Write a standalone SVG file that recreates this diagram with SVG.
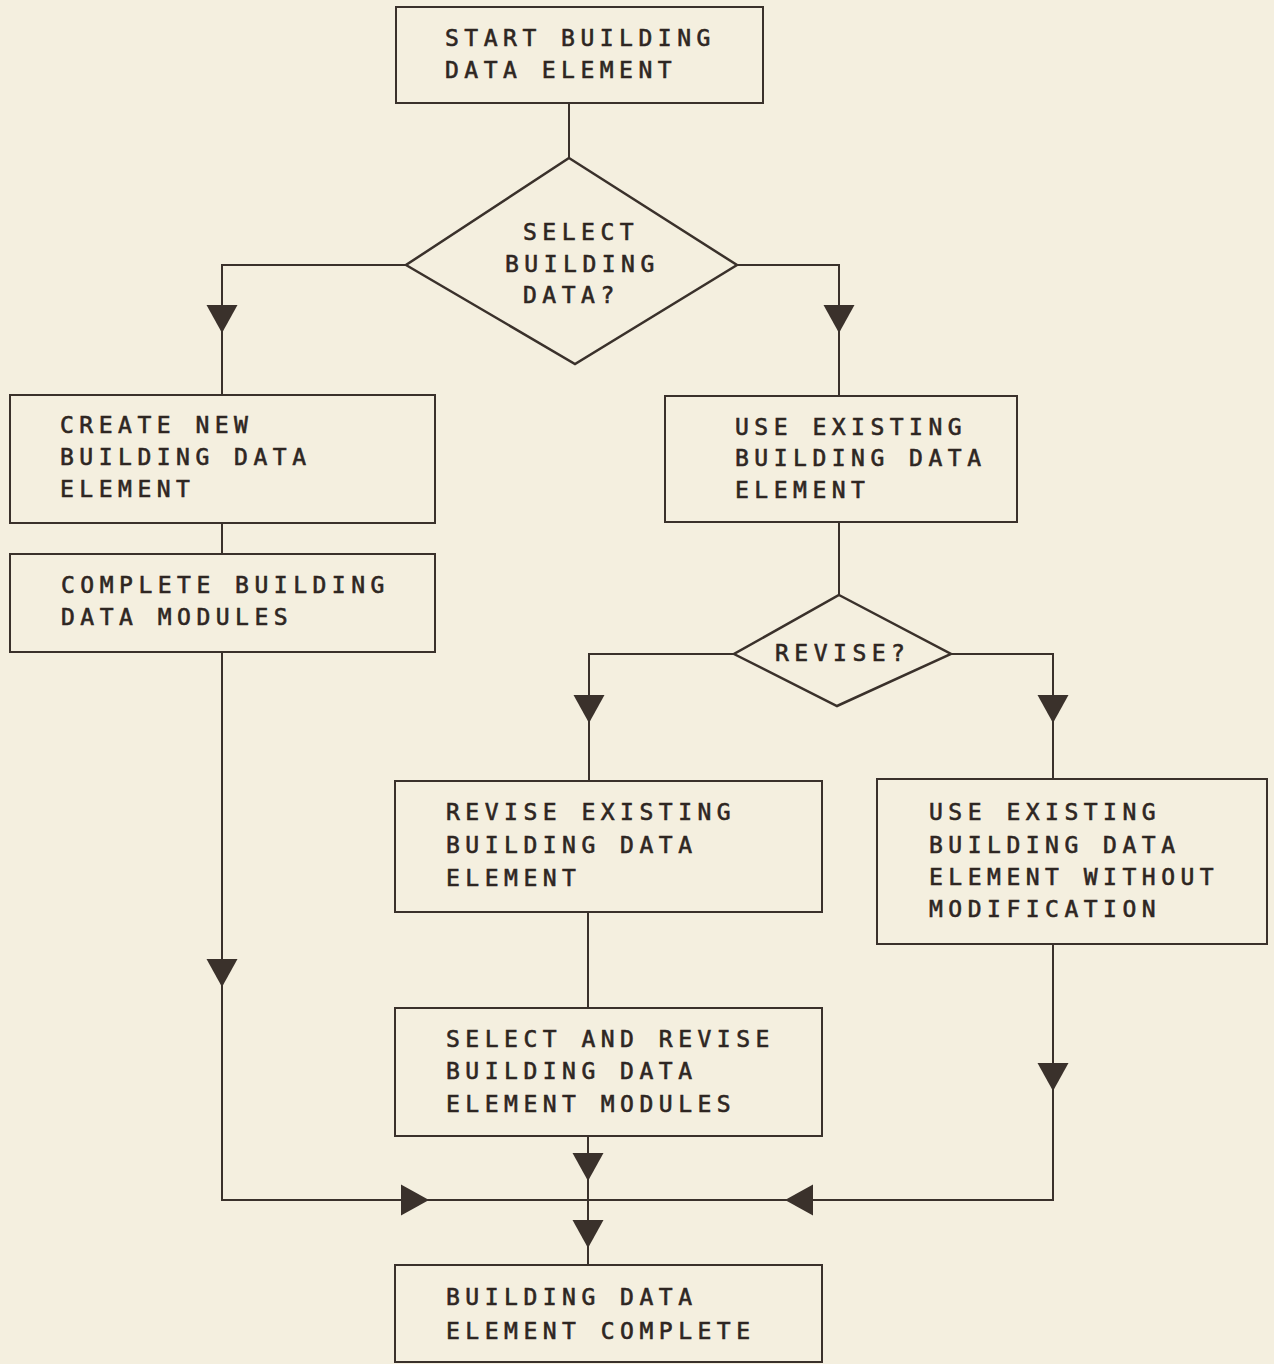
<svg xmlns="http://www.w3.org/2000/svg" xmlns:xlink="http://www.w3.org/1999/xlink" width="1274" height="1364" viewBox="0 0 1274 1364">
<style>
.bg{fill:#f4efdf}
.box{fill:none;stroke:#3a312b;stroke-width:2}
.ln{fill:none;stroke:#3a312b;stroke-width:2}
.dia{fill:none;stroke:#3a312b;stroke-width:2.5;stroke-linejoin:miter}
.t{font-family:"DejaVu Sans Mono","Liberation Mono",monospace;font-size:23px;letter-spacing:5.5px;fill:#2e2622;stroke:#2e2622;stroke-width:0.6}
.ah{fill:#3a312b}
</style>
<defs>
<path id="ad" d="M-15.5,0 L15.5,0 L0,28 Z"/>
</defs>
<rect class="bg" x="0" y="0" width="1274" height="1364"/>

<g id="connectors">
<polyline class="ln" points="569,103 569,158"/>
<polyline class="ln" points="406,265 222,265 222,395"/>
<polyline class="ln" points="737,265 839,265 839,396"/>
<polyline class="ln" points="222,523 222,554"/>
<polyline class="ln" points="839,522 839,595"/>
<polyline class="ln" points="734,654 589,654 589,781"/>
<polyline class="ln" points="951,654 1053,654 1053,779"/>
<polyline class="ln" points="588,912 588,1008"/>
<polyline class="ln" points="222,652 222,1200 1053,1200 1053,944"/>
<polyline class="ln" points="588,1136 588,1265"/>
<use class="ah" xlink:href="#ad" href="#ad" transform="translate(222,305)"/>
<use class="ah" xlink:href="#ad" href="#ad" transform="translate(839,305)"/>
<use class="ah" xlink:href="#ad" href="#ad" transform="translate(589,695)"/>
<use class="ah" xlink:href="#ad" href="#ad" transform="translate(1053,695)"/>
<use class="ah" xlink:href="#ad" href="#ad" transform="translate(222,959)"/>
<use class="ah" xlink:href="#ad" href="#ad" transform="translate(1053,1063)"/>
<use class="ah" xlink:href="#ad" href="#ad" transform="translate(588,1153)"/>
<use class="ah" xlink:href="#ad" href="#ad" transform="translate(588,1220)"/>
<use class="ah" xlink:href="#ad" href="#ad" transform="translate(401,1200) rotate(-90)"/>
<use class="ah" xlink:href="#ad" href="#ad" transform="translate(813,1200) rotate(90)"/>
</g>

<g id="start">
<rect class="box" x="396" y="7" width="367" height="96"/>
<text class="t" x="445" y="46">START BUILDING</text>
<text class="t" x="445" y="78">DATA ELEMENT</text>
</g>

<g id="select-decision">
<polygon class="dia" points="569,158 737,265 575,364 406,265"/>
<text class="t" x="523" y="240">SELECT</text>
<text class="t" x="505" y="272">BUILDING</text>
<text class="t" x="523" y="303">DATA?</text>
</g>

<g id="create-new">
<rect class="box" x="10" y="395" width="425" height="128"/>
<text class="t" x="60" y="433">CREATE NEW</text>
<text class="t" x="60" y="465">BUILDING DATA</text>
<text class="t" x="60" y="497">ELEMENT</text>
</g>

<g id="complete-modules">
<rect class="box" x="10" y="554" width="425" height="98"/>
<text class="t" x="61" y="593">COMPLETE BUILDING</text>
<text class="t" x="61" y="625">DATA MODULES</text>
</g>

<g id="use-existing">
<rect class="box" x="665" y="396" width="352" height="126"/>
<text class="t" x="735" y="435">USE EXISTING</text>
<text class="t" x="735" y="466">BUILDING DATA</text>
<text class="t" x="735" y="498">ELEMENT</text>
</g>

<g id="revise-decision">
<polygon class="dia" points="839,595 951,654 837,706 734,654"/>
<text class="t" x="775" y="661">REVISE?</text>
</g>

<g id="revise-existing">
<rect class="box" x="395" y="781" width="427" height="131"/>
<text class="t" x="446" y="820">REVISE EXISTING</text>
<text class="t" x="446" y="853">BUILDING DATA</text>
<text class="t" x="446" y="886">ELEMENT</text>
</g>

<g id="use-without-modification">
<rect class="box" x="877" y="779" width="390" height="165"/>
<text class="t" x="929" y="820">USE EXISTING</text>
<text class="t" x="929" y="853">BUILDING DATA</text>
<text class="t" x="929" y="885">ELEMENT WITHOUT</text>
<text class="t" x="929" y="917">MODIFICATION</text>
</g>

<g id="select-revise-modules">
<rect class="box" x="395" y="1008" width="427" height="128"/>
<text class="t" x="446" y="1047">SELECT AND REVISE</text>
<text class="t" x="446" y="1079">BUILDING DATA</text>
<text class="t" x="446" y="1112">ELEMENT MODULES</text>
</g>

<g id="complete">
<rect class="box" x="395" y="1265" width="427" height="97"/>
<text class="t" x="446" y="1305">BUILDING DATA</text>
<text class="t" x="446" y="1339">ELEMENT COMPLETE</text>
</g>
</svg>
